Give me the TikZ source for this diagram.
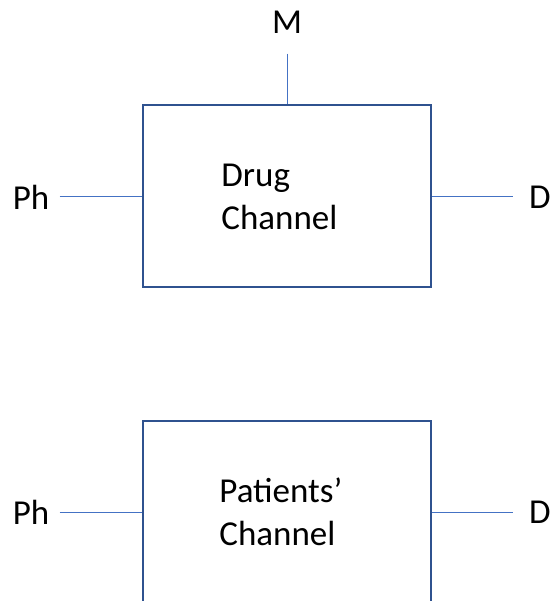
\documentclass[tikz,border=0pt]{standalone}
\usepackage{fontspec}
\setmainfont{Carlito}
\usetikzlibrary{positioning}
\definecolor{boxedge}{HTML}{2F528F}
\definecolor{wireblue}{HTML}{4472C4}
\begin{document}
\begin{tikzpicture}[x=0.5pt, y=-0.5pt,
  chan/.style={draw=boxedge, line width=1pt, minimum width=144pt, minimum height=91pt, inner sep=0pt},
  txt/.style={font=\fontsize{17.5pt}{21.5pt}\selectfont, align=left, inner sep=0pt},
  lab/.style={font=\fontsize{17.5pt}{20pt}\selectfont, inner sep=0pt},
  wire/.style={draw=wireblue, line width=0.5pt}]
\useasboundingbox (0,0) rectangle (553,601);
\clip (0,0) rectangle (553,601);
% upper block
\node[chan] (drug) at (287,196) {};
\node[txt, anchor=west] (druglbl) at (221,197) {Drug\\Channel};
\node[lab] (mA) at (287,22) {M};
\node[lab] (phA) at (31,197) {Ph};
\node[lab] (dA) at (540,197) {D};
\draw[wire, shorten <=10pt] (mA.south) -- (drug.north);
\draw[wire, shorten <=5pt] (drug.west -| phA.east) -- (drug.west);
\draw[wire, shorten >=8pt] (drug.east) -- (drug.east -| dA.west);
% lower block
\node[chan] (pat) at (287,512) {};
\node[txt, anchor=west] (patlbl) at (219,512) {Patients’\\Channel};
\node[lab] (phB) at (31,512) {Ph};
\node[lab] (dB) at (540,512) {D};
\draw[wire, shorten <=5pt] (pat.west -| phB.east) -- (pat.west);
\draw[wire, shorten >=8pt] (pat.east) -- (pat.east -| dB.west);
\end{tikzpicture}
\end{document}
